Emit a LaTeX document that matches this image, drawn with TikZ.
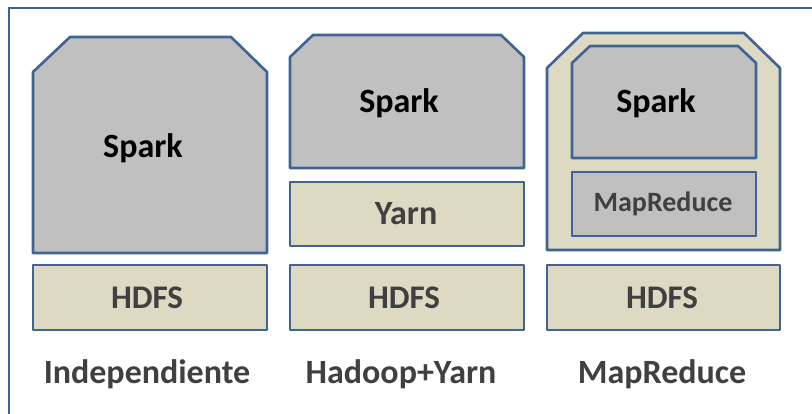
\documentclass[tikz,border=0pt]{standalone}
\usepackage{fontspec}
\setmainfont{Carlito}
\definecolor{edge}{HTML}{3E6494}
\definecolor{sparkgray}{HTML}{C0C0C0}
\definecolor{tan}{HTML}{DDD9C3}
\definecolor{ink}{HTML}{404040}
\tikzset{
  layer/.style={draw=edge, line width=2.6pt, line join=round},
  graybox/.style={layer, fill=sparkgray},
  tanbox/.style={layer, fill=tan},
  lbl/.style={font=\fontsize{33}{38}\selectfont\bfseries, text=ink, inner sep=0pt},
  sparklbl/.style={lbl, font=\fontsize{34}{40}\selectfont\bfseries, text=black},
  caption/.style={font=\fontsize{34}{40}\selectfont\bfseries, text=ink, inner sep=0pt},
}
\begin{document}
\begin{tikzpicture}[x=1pt, y=-1pt]
\useasboundingbox (0,0) rectangle (812,414);
\fill[white] (0,0) rectangle (812,414);
% outer frame
\draw[edge, line width=2pt] (9,414) -- (9,8) -- (812,8);

% --- Independiente ---
\draw[graybox] (33,253) -- (33,72) -- (70,37) -- (231,37) -- (267,72) -- (267,253) -- cycle;
\node[sparklbl] (spark1) at (143,148) {Spark};
\draw[tanbox] (33,265) rectangle (267,330);
\node[lbl] (hdfs1) at (147,298) {HDFS};
\node[caption] (cap1) at (147,374) {Independiente};

% --- Hadoop+Yarn ---
\draw[graybox] (290,168) -- (290,57) -- (313,35) -- (501,35) -- (524,57) -- (524,168) -- cycle;
\node[sparklbl] (spark2) at (399,103) {Spark};
\draw[tanbox] (290,182) rectangle (524,246);
\node[lbl, font=\fontsize{34}{40}\selectfont\bfseries] (yarn) at (406,214) {Yarn};
\draw[tanbox] (290,265) rectangle (524,330);
\node[lbl] (hdfs2) at (404,298) {HDFS};
\node[caption] (cap2) at (401,374) {Hadoop+Yarn};

% --- MapReduce ---
\draw[tanbox] (547,250) -- (547,68) -- (583,33) -- (744,33) -- (780,68) -- (780,250) -- cycle;
\draw[graybox] (572,158) -- (572,63) -- (590,46) -- (738,46) -- (756,63) -- (756,158) -- cycle;
\node[sparklbl] (spark3) at (656,103) {Spark};
\draw[graybox] (572,172) rectangle (756,236);
\node[lbl, font=\fontsize{28}{33}\selectfont\bfseries] (mr) at (663,204) {MapReduce};
\draw[tanbox] (547,265) rectangle (780,330);
\node[lbl] (hdfs3) at (662,298) {HDFS};
\node[caption] (cap3) at (662,374) {MapReduce};
\end{tikzpicture}
\end{document}
